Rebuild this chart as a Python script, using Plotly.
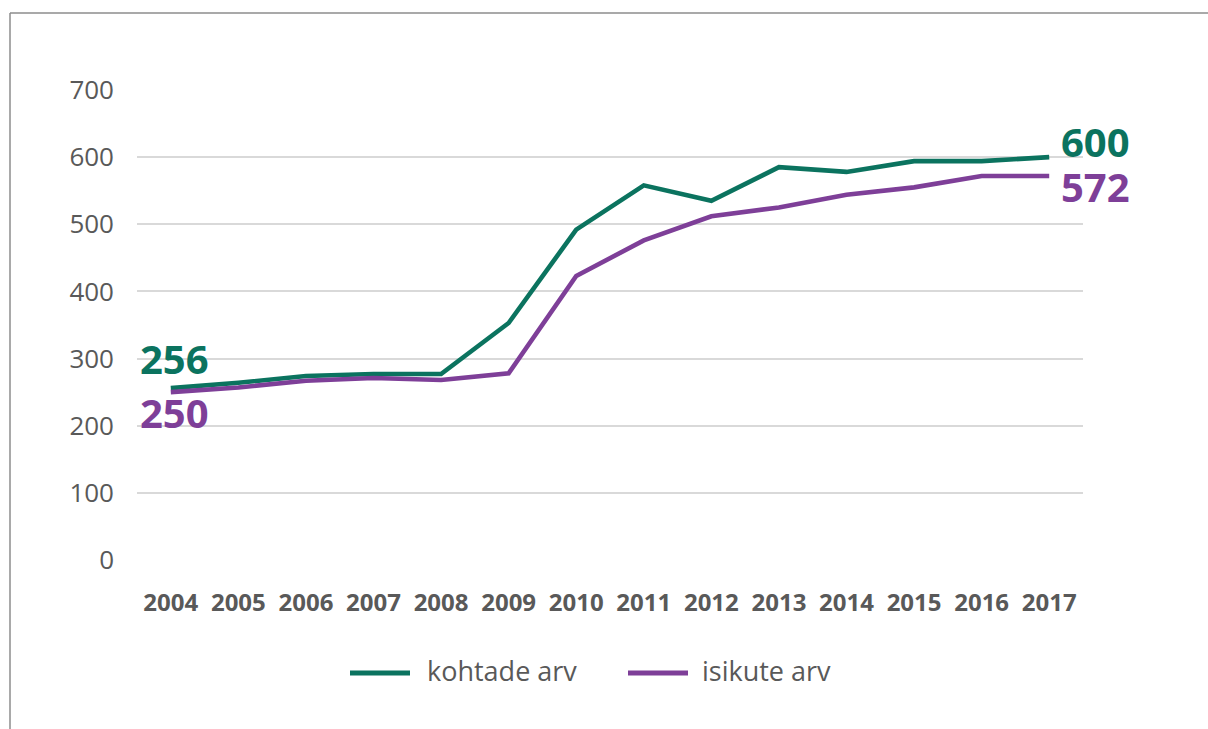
import plotly.graph_objects as go

years = ["2004", "2005", "2006", "2007", "2008", "2009", "2010",
         "2011", "2012", "2013", "2014", "2015", "2016", "2017"]
kohtade = [256, 264, 274, 277, 277, 353, 492, 558, 535, 585, 578, 594, 594, 600]
isikute = [250, 257, 267, 271, 268, 278, 423, 476, 512, 525, 544, 555, 572, 572]
names = ["kohtade arv", "isikute arv"]
colors = ["#0B735F", "#7E3F98"]
y_ticks = [0, 100, 200, 300, 400, 500, 600, 700]

W, H = 1208, 729
L, R, T, B = 137, 125, 90, 169
pw, ph = W - L - R, H - T - B

def px(x):
    return (x - L) / pw

def py(y):
    return (H - B - y) / ph

fig = go.Figure()
for vals, name, col in zip([kohtade, isikute], names, colors):
    fig.add_trace(go.Scatter(x=years, y=vals, mode="lines", name=name,
                             line=dict(color=col, width=4.6), showlegend=False))

font_family = "Open Sans, Noto Sans, sans-serif"

first, last = 0, len(years) - 1
lab_size = 40
box_h = 40
ann = []
# end labels (x given as category index)
ann.append(dict(x=first, y=kohtade[first], text=str(kohtade[first]), showarrow=False,
                xanchor="left", yanchor="middle", xshift=-33, yshift=30, height=box_h,
                font=dict(family=font_family, size=lab_size, color=colors[0], weight="bold")))
ann.append(dict(x=first, y=isikute[first], text=str(isikute[first]), showarrow=False,
                xanchor="left", yanchor="middle", xshift=-33, yshift=-20, height=box_h,
                font=dict(family=font_family, size=lab_size, color=colors[1], weight="bold")))
ann.append(dict(x=last, y=kohtade[last], text=str(kohtade[last]), showarrow=False,
                xanchor="left", yanchor="middle", xshift=10, yshift=16, height=box_h,
                font=dict(family=font_family, size=lab_size, color=colors[0], weight="bold")))
ann.append(dict(x=last, y=isikute[last], text=str(isikute[last]), showarrow=False,
                xanchor="left", yanchor="middle", xshift=10, yshift=-10, height=box_h,
                font=dict(family=font_family, size=lab_size, color=colors[1], weight="bold")))

shapes = []
# frame (top + left)
shapes.append(dict(type="line", xref="paper", yref="paper",
                   x0=px(10), x1=px(W + 5), y0=py(13), y1=py(13),
                   line=dict(color="#8c8c8c", width=1.5)))
shapes.append(dict(type="line", xref="paper", yref="paper",
                   x0=px(10), x1=px(10), y0=py(13), y1=py(H + 5),
                   line=dict(color="#8c8c8c", width=1.5)))

# custom legend
leg = [(350, 410, 425), (628, 688, 700)]
for (x0, x1, tx), name, col in zip(leg, names, colors):
    shapes.append(dict(type="line", xref="paper", yref="paper",
                       x0=px(x0), x1=px(x1), y0=py(673), y1=py(673),
                       line=dict(color=col, width=5)))
    ann.append(dict(xref="paper", yref="paper", x=px(tx), y=py(670), text=name,
                    showarrow=False, xanchor="left", yanchor="middle",
                    font=dict(family=font_family, size=27, color="#595959")))

fig.update_layout(
    width=W, height=H,
    margin=dict(l=L, r=R, t=T, b=B),
    paper_bgcolor="white", plot_bgcolor="white",
    annotations=ann, shapes=shapes,
    xaxis=dict(type="category", range=[-0.5, 13.5], showgrid=False,
               showline=False, zeroline=False, ticks="",
               tickfont=dict(family=font_family, size=24, color="#595959", weight="bold"),
               ticklabelstandoff=26),
    yaxis=dict(range=[0, 700], tickvals=y_ticks, showgrid=True,
               gridcolor="#d9d9d9", gridwidth=1.6, zeroline=False,
               showline=False, ticks="",
               tickfont=dict(family=font_family, size=26, color="#595959"),
               ticklabelstandoff=22),
)

fig.write_html("out.html", config={"displayModeBar": False},
               post_script="document.body.style.margin='0';document.body.style.overflow='hidden';")
